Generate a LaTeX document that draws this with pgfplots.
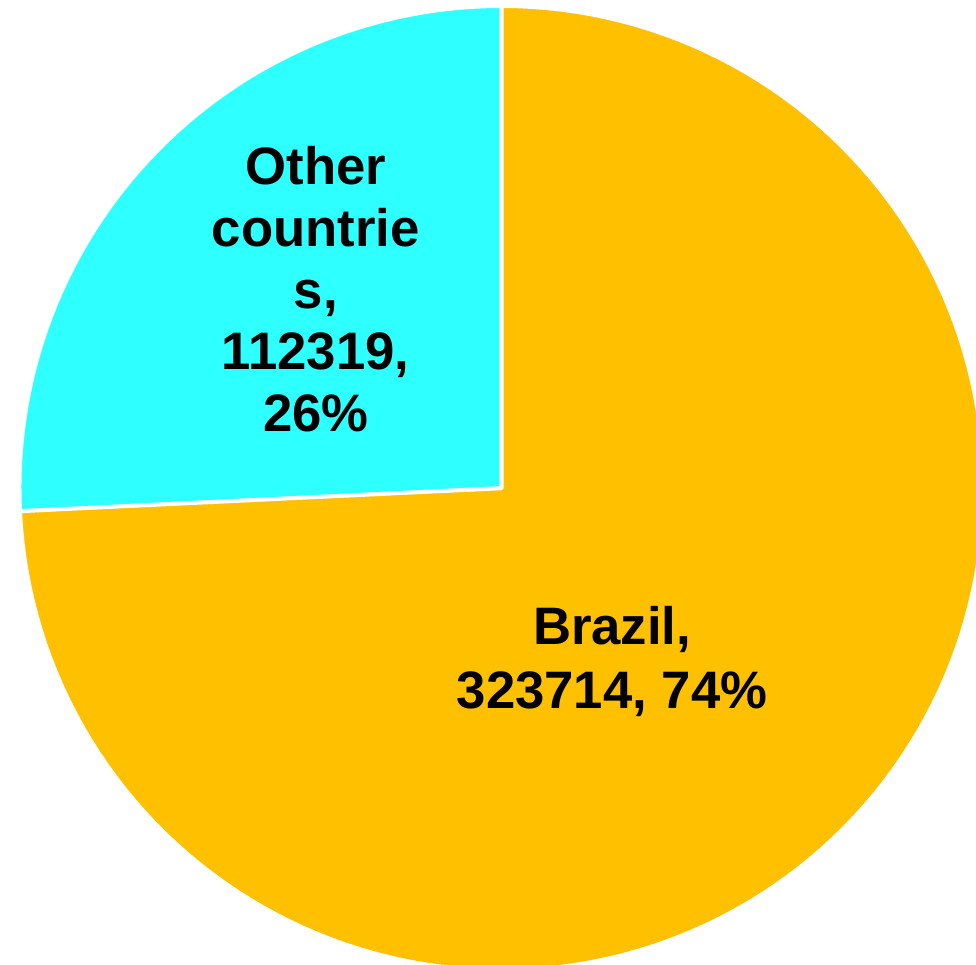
\documentclass[border=0pt]{standalone}
\usepackage{pgfplots}
\usepackage{pgfplotstable}
\pgfplotsset{compat=1.18}
\usepackage{fontspec}
\setmainfont{Liberation Sans}
\definecolor{brazil}{HTML}{FFC000}
\definecolor{other}{HTML}{2EFFFF}
\pgfplotstableread{
label value
Brazil 323714
Other 112319
}\datatable
\begin{document}
\pgfplotstablegetelem{0}{value}\of\datatable \let\vA\pgfplotsretval
\pgfplotstablegetelem{1}{value}\of\datatable \let\vB\pgfplotsretval
\edef\endO{\fpeval{round(90+360*\vB/(\vA+\vB),4)}}
\begin{tikzpicture}
\begin{axis}[
  scale only axis, width=488pt, height=485pt,
  xmin=0, xmax=976, ymin=0, ymax=970,
  axis lines=none, clip=true,
]
\addplot[fill=other, draw=white, line width=2pt, domain=90:\endO, samples=60, line join=round]
  ({499+485*cos(x)},{479+485*sin(x)}) -- (axis cs:499,479) -- cycle;
\addplot[fill=brazil, draw=white, line width=2pt, domain=\endO:450, samples=150, line join=round]
  ({499+485*cos(x)},{479+485*sin(x)}) -- (axis cs:499,479) -- cycle;
\node[align=center, font=\bfseries\fontsize{26.5}{31}\selectfont] at (axis cs:312,679)
  {Other\\countrie\\s,\\112319,\\26\%};
\node[align=center, font=\bfseries\fontsize{26.5}{32}\selectfont] at (axis cs:610,305)
  {Brazil,\\323714, 74\%};
\coordinate (sw) at (rel axis cs:0,0);
\coordinate (ne) at (rel axis cs:1,1);
\end{axis}
\pgfresetboundingbox
\path[use as bounding box] (sw) rectangle (ne);
\end{tikzpicture}
\end{document}
